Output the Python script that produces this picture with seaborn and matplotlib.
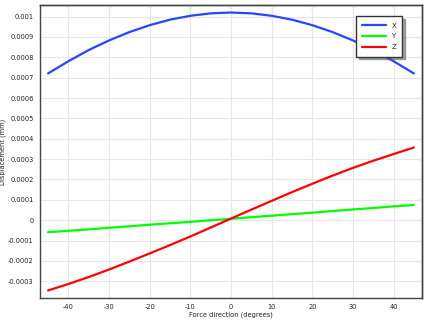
import numpy as np
import pandas as pd
import matplotlib
matplotlib.use("Agg")
import matplotlib.pyplot as plt
import seaborn as sns

angle = [-45, -40, -35, -30, -25, -20, -15, -10, -5, 0, 5, 10, 15, 20, 25, 30, 35, 40, 45]
disp_x = [0.000721, 0.000781, 0.000836, 0.000883, 0.000924, 0.000958, 0.000985, 0.001004,
          0.001016, 0.001020, 0.001016, 0.001004, 0.000985, 0.000958, 0.000924, 0.000883,
          0.000836, 0.000781, 0.000721]
disp_y = [-0.000059, -0.000052, -0.000045, -0.000037, -0.000030, -0.000022, -0.000015,
          -0.000008, 0.000000, 0.000007, 0.000015, 0.000022, 0.000030, 0.000037, 0.000045,
          0.000053, 0.000060, 0.000068, 0.000075]
disp_z = [-0.000345, -0.000313, -0.000279, -0.000242, -0.000203, -0.000163, -0.000122,
          -0.000080, -0.000036, 0.000008, 0.000052, 0.000095, 0.000138, 0.000179, 0.000219,
          0.000257, 0.000292, 0.000325, 0.000357]
series_names = ["X", "Y", "Z"]
colors = ["#2447ff", "#00ff00", "#ff0000"]
xticks = [-40, -30, -20, -10, 0, 10, 20, 30, 40]
yticks = [-0.0003, -0.0002, -0.0001, 0, 0.0001, 0.0002, 0.0003, 0.0004, 0.0005,
          0.0006, 0.0007, 0.0008, 0.0009, 0.001]
ytick_labels = ["-0.0003", "-0.0002", "-0.0001", "0", "0.0001", "0.0002", "0.0003",
                "0.0004", "0.0005", "0.0006", "0.0007", "0.0008", "0.0009", "0.001"]

df = pd.DataFrame({"angle": angle * 3,
                   "disp": disp_x + disp_y + disp_z,
                   "comp": [series_names[0]] * len(angle) + [series_names[1]] * len(angle)
                           + [series_names[2]] * len(angle)})

sns.set_theme(style="white")
plt.rcParams["font.family"] = ["DejaVu Sans"]

fig = plt.figure(figsize=(4.32, 3.27), dpi=100)
ax = fig.add_axes([40 / 432, 1 - 298 / 327, (422 - 40) / 432, (298 - 5) / 327])

sns.lineplot(data=df, x="angle", y="disp", hue="comp", palette=colors,
             linewidth=1.6, ax=ax, legend=False, sort=False)

ax.set_xlim(-47, 47)
ax.set_ylim(-0.000382, 0.001057)
ax.set_xticks(xticks)
ax.set_xticklabels([str(t) for t in xticks])
ax.set_yticks(yticks)
ax.set_yticklabels(ytick_labels)
ax.grid(True, color="#e6e6e6", linewidth=0.8)
ax.set_axisbelow(True)

for s in ax.spines.values():
    s.set_color("#444444")
    s.set_linewidth(1.0)

ax.tick_params(axis="both", which="major", labelsize=4.8, colors="#222222",
               length=3, width=0.8, direction="out", pad=1.5)
sec_x = ax.secondary_xaxis("top")
sec_x.set_xticks(xticks)
sec_x.tick_params(direction="in", length=3, width=0.8, labeltop=False, colors="#444444")
sec_y = ax.secondary_yaxis("right")
sec_y.set_yticks(yticks)
sec_y.tick_params(direction="in", length=3, width=0.8, labelright=False, colors="#444444")
for s in list(sec_x.spines.values()) + list(sec_y.spines.values()):
    s.set_color("#444444")
    s.set_linewidth(1.0)

ax.set_xlabel("Force direction (degrees)", fontsize=4.8, labelpad=1, color="#222222")
ax.set_ylabel("Displacement (mm)", fontsize=4.8, color="#222222")
ax.yaxis.set_label_coords(-0.088, 0.5)

handles = [plt.Line2D([], [], color=c, linewidth=1.6) for c in colors]
leg = ax.legend(handles, series_names, loc="upper right", bbox_to_anchor=(0.958, 0.973),
                fontsize=5, frameon=True, fancybox=False, shadow={"color": "#555555"},
                handlelength=3.4, borderpad=0.9, labelspacing=0.7, handletextpad=0.8)
leg.get_frame().set_edgecolor("#333333")
leg.get_frame().set_linewidth(1.0)

fig.savefig("out.png", dpi=100)
